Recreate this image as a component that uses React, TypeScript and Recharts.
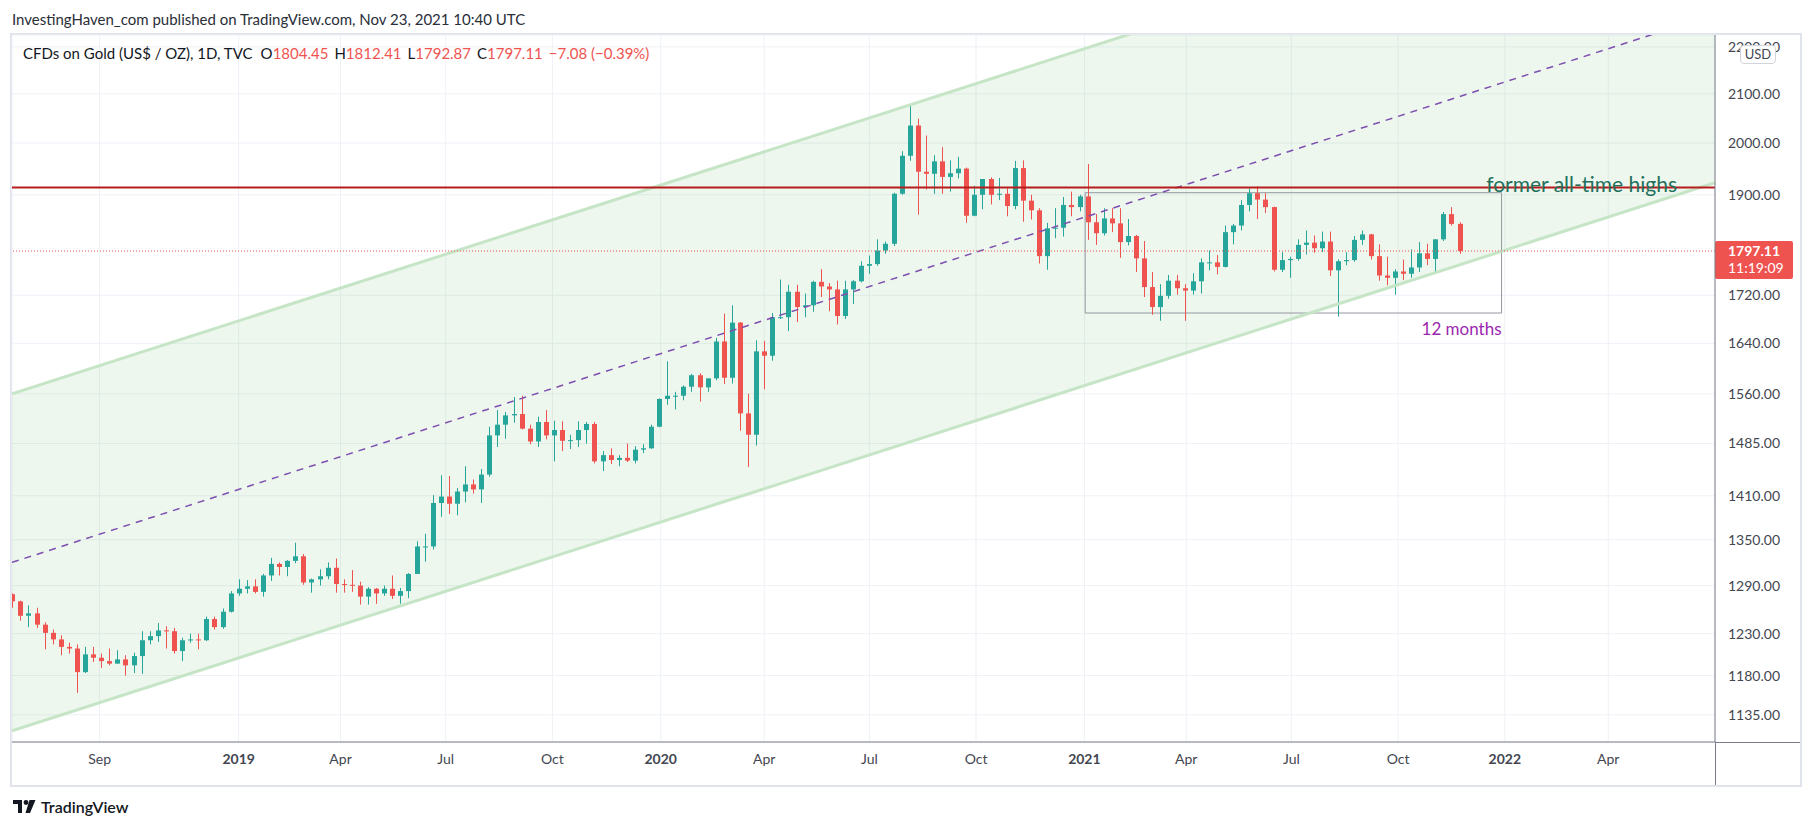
import React from "react";
import {
  ComposedChart,
  Bar,
  Area,
  XAxis,
  YAxis,
  CartesianGrid,
  ReferenceLine,
  ReferenceArea,
} from "recharts";

// weekly candles [open, high, low, close]; week 0 = week of 18 Jun 2018
const ohlc2018 = [
  [1279, 1280, 1262, 1270], [1270, 1271, 1246, 1252], [1252, 1265, 1238, 1255],
  [1255, 1262, 1237, 1241], [1241, 1244, 1211, 1231], [1231, 1235, 1217, 1223],
  [1223, 1228, 1204, 1214], [1214, 1219, 1206, 1212], [1212, 1217, 1160, 1184],
  [1184, 1214, 1183, 1205], [1205, 1214, 1196, 1201], [1201, 1206, 1189, 1197],
  [1197, 1212, 1192, 1194], [1194, 1210, 1194, 1199], [1199, 1204, 1180, 1192],
  [1192, 1207, 1183, 1203], [1203, 1233, 1182, 1222], [1222, 1233, 1217, 1227],
  [1227, 1243, 1220, 1234], [1234, 1239, 1212, 1233], [1233, 1237, 1206, 1209],
  [1209, 1225, 1197, 1222], [1222, 1230, 1219, 1223], [1223, 1230, 1211, 1222],
  [1222, 1251, 1221, 1248], [1248, 1251, 1235, 1238], [1238, 1261, 1236, 1257],
  [1257, 1283, 1256, 1280], [1280, 1298, 1277, 1286],
];

const ohlc2019 = [
  [1286, 1297, 1280, 1289], [1289, 1298, 1280, 1282], [1282, 1305, 1276, 1303],
  [1303, 1326, 1296, 1318], [1318, 1320, 1303, 1314], [1314, 1323, 1302, 1322],
  [1322, 1346, 1319, 1328], [1328, 1331, 1291, 1294], [1294, 1299, 1281, 1298],
  [1298, 1311, 1290, 1302], [1302, 1320, 1298, 1313], [1313, 1325, 1281, 1292],
  [1292, 1298, 1281, 1291], [1291, 1310, 1282, 1290], [1290, 1295, 1266, 1276],
  [1276, 1288, 1266, 1286], [1286, 1287, 1267, 1280], [1280, 1290, 1277, 1286],
  [1286, 1303, 1273, 1277], [1277, 1287, 1267, 1283], [1283, 1306, 1274, 1305],
  [1305, 1348, 1305, 1341], [1341, 1358, 1321, 1341], [1341, 1411, 1337, 1400],
  [1400, 1439, 1381, 1409], [1409, 1438, 1385, 1399], [1399, 1421, 1383, 1416],
  [1416, 1452, 1401, 1426], [1426, 1433, 1413, 1419], [1419, 1448, 1400, 1440],
  [1440, 1510, 1437, 1497], [1497, 1535, 1480, 1513], [1513, 1532, 1492, 1527],
  [1527, 1555, 1516, 1529], [1529, 1557, 1506, 1507], [1507, 1513, 1484, 1488],
  [1488, 1525, 1480, 1517], [1517, 1535, 1491, 1497], [1497, 1519, 1459, 1505],
  [1505, 1518, 1474, 1489], [1489, 1498, 1477, 1490], [1490, 1518, 1480, 1505],
  [1505, 1517, 1485, 1514], [1514, 1517, 1456, 1459], [1459, 1474, 1445, 1468],
  [1468, 1478, 1455, 1461], [1461, 1468, 1452, 1464], [1464, 1485, 1458, 1460],
  [1460, 1481, 1456, 1476], [1476, 1484, 1471, 1478], [1478, 1513, 1477, 1510],
  [1510, 1553, 1509, 1552],
];

const ohlc2020 = [
  [1552, 1611, 1543, 1557], [1557, 1563, 1536, 1557], [1557, 1573, 1550, 1571],
  [1571, 1591, 1563, 1589], [1589, 1592, 1548, 1570], [1570, 1584, 1563, 1584],
  [1584, 1649, 1581, 1643], [1643, 1689, 1575, 1585], [1585, 1703, 1576, 1674],
  [1674, 1675, 1504, 1530], [1530, 1560, 1451, 1498], [1498, 1645, 1482, 1627],
  [1627, 1644, 1567, 1620], [1620, 1690, 1612, 1683], [1683, 1747, 1680, 1683],
  [1683, 1738, 1660, 1726], [1726, 1738, 1675, 1700], [1700, 1723, 1683, 1703],
  [1703, 1745, 1692, 1743], [1743, 1765, 1717, 1735], [1735, 1741, 1693, 1730],
  [1730, 1745, 1671, 1685], [1685, 1745, 1680, 1730], [1730, 1746, 1705, 1744],
  [1744, 1779, 1742, 1771], [1771, 1789, 1757, 1774], [1774, 1818, 1771, 1798],
  [1798, 1814, 1792, 1810], [1810, 1904, 1806, 1902], [1902, 1984, 1900, 1975],
  [1975, 2075, 1965, 2035], [2035, 2049, 1863, 1944], [1944, 2015, 1910, 1940],
  [1940, 1976, 1902, 1964], [1964, 1992, 1902, 1934], [1934, 1966, 1906, 1941],
  [1941, 1973, 1931, 1950], [1950, 1952, 1848, 1861], [1861, 1917, 1860, 1900],
  [1900, 1930, 1873, 1930], [1930, 1933, 1882, 1900], [1900, 1932, 1890, 1902],
  [1902, 1912, 1860, 1879], [1879, 1965, 1873, 1951], [1951, 1966, 1850, 1889],
  [1889, 1900, 1854, 1871], [1871, 1875, 1775, 1788], [1788, 1848, 1764, 1838],
  [1838, 1875, 1820, 1839], [1839, 1896, 1823, 1881], [1881, 1906, 1860, 1877],
  [1877, 1900, 1869, 1897],
];

const ohlc2021 = [
  [1897, 1959, 1817, 1849], [1849, 1864, 1808, 1829], [1829, 1875, 1825, 1856],
  [1856, 1875, 1831, 1847], [1847, 1875, 1785, 1813], [1813, 1855, 1807, 1824],
  [1824, 1826, 1760, 1784], [1784, 1815, 1717, 1734], [1734, 1760, 1687, 1700],
  [1700, 1739, 1677, 1719], [1719, 1755, 1714, 1745], [1745, 1755, 1721, 1732],
  [1732, 1739, 1677, 1728], [1728, 1758, 1721, 1744], [1744, 1784, 1723, 1777],
  [1777, 1798, 1763, 1777], [1777, 1790, 1756, 1769], [1769, 1843, 1768, 1831],
  [1831, 1846, 1809, 1843], [1843, 1890, 1834, 1881], [1881, 1912, 1869, 1903],
  [1903, 1916, 1855, 1891], [1891, 1903, 1866, 1877], [1877, 1878, 1761, 1764],
  [1764, 1795, 1760, 1781], [1781, 1787, 1750, 1783], [1783, 1818, 1780, 1808],
  [1808, 1834, 1791, 1812], [1812, 1825, 1794, 1802], [1802, 1832, 1795, 1814],
  [1814, 1832, 1753, 1763], [1763, 1782, 1684, 1779], [1779, 1795, 1772, 1781],
  [1781, 1824, 1778, 1817], [1817, 1834, 1808, 1827], [1827, 1828, 1782, 1788],
  [1788, 1809, 1745, 1754], [1754, 1787, 1737, 1750], [1750, 1765, 1721, 1761],
  [1761, 1782, 1746, 1757], [1757, 1800, 1750, 1768], [1768, 1813, 1760, 1793],
  [1793, 1810, 1772, 1783], [1783, 1818, 1759, 1818], [1818, 1868, 1815, 1864],
  [1864, 1877, 1843, 1846], [1846, 1849, 1792, 1797],
];

// time axis, in weeks from 18 Jun 2018
const monthTicks = [11.2, 28.4, 41, 54, 67.2, 80.6, 93.4, 106.4, 119.6, 133, 145.6, 158.6, 171.8, 185, 197.8];
const monthLabels = ["Sep", "2019", "Apr", "Jul", "Oct", "2020", "Apr", "Jul", "Oct", "2021", "Apr", "Jul", "Oct", "2022", "Apr"];
const priceTicks = [1135, 1180, 1230, 1290, 1350, 1410, 1485, 1560, 1640, 1720, 1900, 2000, 2100, 2200];

// parallel channel drawn on the chart (start / end of the visible range)
const channelX = [0.36, 211];
const channelUpper = [1560, 2685];
const channelLower = [1117, 1923];
const channelMid = [1320, 2272];

const athLevel = 1914;
const boxWeeks = [133.1, 184.6];
const boxPrices = [1690, 1904];
const lastClose = 1797.11;

const UP = "#26a69a";
const DOWN = "#ef5350";
const FONT = "Lato, 'Open Sans', sans-serif";
const BODY_W = 5;

const candles = [...ohlc2018, ...ohlc2019, ...ohlc2020, ...ohlc2021].map(
  ([o, h, l, c], i) => ({ x: i + 0.4, o, h, l, c, range: [l, h] })
);

const channelData = channelX.map((x, i) => ({
  x,
  band: [channelLower[i], channelUpper[i]],
}));

function Candle(props: any) {
  const { x, y, width, height, payload } = props;
  if (!payload || y == null || height == null) return null;
  const { o, h, l, c } = payload;
  const top = Math.min(y, y + height);
  const bottom = Math.max(y, y + height);
  const span = Math.log(h) - Math.log(l) || 1;
  const toY = (v: number) => top + ((Math.log(h) - Math.log(v)) / span) * (bottom - top);
  const cx = Math.round(x + width / 2) + 0.5;
  const yo = toY(o);
  const yc = toY(c);
  const color = c >= o ? UP : DOWN;
  return (
    <g>
      <line x1={cx} x2={cx} y1={top} y2={bottom} stroke={color} strokeWidth={1} />
      <rect
        x={cx - BODY_W / 2}
        y={Math.min(yo, yc)}
        width={BODY_W}
        height={Math.max(1, Math.abs(yo - yc))}
        fill={color}
      />
    </g>
  );
}

function TimeTick(props: any) {
  const { x, y, payload } = props;
  const idx = monthTicks.indexOf(payload.value);
  const label = monthLabels[idx] ?? "";
  const isYear = /^\d{4}$/.test(label);
  return (
    <text
      x={x}
      y={y}
      dy={12}
      textAnchor="middle"
      fontSize={14}
      fontFamily={FONT}
      fontWeight={isYear ? 700 : 400}
      fill="#434651"
    >
      {label}
    </text>
  );
}

export default function App() {
  return (
    <div
      style={{
        position: "relative",
        width: 1813,
        height: 830,
        background: "#fff",
        fontFamily: FONT,
        overflow: "hidden",
      }}
    >
      <style>{"body{margin:0}"}</style>

      <div
        style={{
          position: "absolute",
          left: 12,
          top: 9,
          fontSize: 15,
          lineHeight: "20px",
          color: "#2a2e39",
        }}
      >
        InvestingHaven_com published on TradingView.com, Nov 23, 2021 10:40 UTC
      </div>

      <div
        style={{
          position: "absolute",
          left: 10,
          top: 33,
          width: 1792,
          height: 754,
          border: "2px solid #e0e3eb",
          boxSizing: "border-box",
        }}
      />

      <div style={{ position: "absolute", left: 0, top: 0 }}>
        <ComposedChart
          width={1800}
          height={785}
          data={candles}
          margin={{ top: 35, right: 0, bottom: 0, left: 12 }}
        >
          <CartesianGrid stroke="#eef1f7" />

          <XAxis
            dataKey="x"
            type="number"
            domain={[0.36, 211]}
            allowDataOverflow
            ticks={monthTicks}
            interval={0}
            height={43}
            tickLine={false}
            tickMargin={4}
            axisLine={{ stroke: "#787b86" }}
            tick={<TimeTick />}
          />

          <YAxis
            orientation="right"
            scale="log"
            domain={[1104.8, 2226]}
            allowDataOverflow
            ticks={priceTicks}
            interval={0}
            width={85}
            tickLine={false}
            tickMargin={7}
            axisLine={{ stroke: "#787b86" }}
            tickFormatter={(v: number) => v.toFixed(2)}
            tick={{ fill: "#434651", fontSize: 14, fontFamily: FONT }}
          />

          <Area
            data={channelData}
            dataKey="band"
            type="linear"
            stroke="none"
            fill="#4caf50"
            fillOpacity={0.1}
            isAnimationActive={false}
            activeDot={false}
            dot={false}
          />

          <ReferenceLine
            segment={[
              { x: channelX[0], y: channelUpper[0] },
              { x: channelX[1], y: channelUpper[1] },
            ]}
            stroke="#c5e5c6"
            strokeWidth={3}
            ifOverflow="hidden"
          />
          <ReferenceLine
            segment={[
              { x: channelX[0], y: channelLower[0] },
              { x: channelX[1], y: channelLower[1] },
            ]}
            stroke="#c5e5c6"
            strokeWidth={3}
            ifOverflow="hidden"
          />
          <ReferenceLine
            segment={[
              { x: channelX[0], y: channelMid[0] },
              { x: channelX[1], y: channelMid[1] },
            ]}
            stroke="#7e4fb0"
            strokeWidth={1.5}
            strokeDasharray="7 6"
            ifOverflow="hidden"
          />

          <Bar
            dataKey="range"
            barSize={5}
            shape={<Candle />}
            isAnimationActive={false}
          />

          <ReferenceArea
            x1={boxWeeks[0]}
            x2={boxWeeks[1]}
            y1={boxPrices[0]}
            y2={boxPrices[1]}
            fill="none"
            fillOpacity={0}
            stroke="#9598a1"
            strokeWidth={1}
            label={(p: any) => (
              <text
                x={p.viewBox.x + p.viewBox.width}
                y={p.viewBox.y + p.viewBox.height + 22}
                textAnchor="end"
                fontSize={17}
                fontFamily={FONT}
                fill="#9c27b0"
              >
                12 months
              </text>
            )}
          />

          <ReferenceLine
            y={athLevel}
            stroke="#b71c1c"
            strokeWidth={2}
            label={(p: any) => (
              <text
                x={p.viewBox.x + p.viewBox.width - 38}
                y={p.viewBox.y + 5}
                textAnchor="end"
                fontSize={21}
                fontFamily={FONT}
                fill="#22705c"
              >
                former all-time highs
              </text>
            )}
          />

          <ReferenceLine
            y={lastClose}
            stroke="#ef5350"
            strokeDasharray="1 2"
            strokeWidth={1}
            label={(p: any) => {
              const bx = p.viewBox.x + p.viewBox.width;
              const by = p.viewBox.y;
              return (
                <g>
                  <rect x={bx} y={by - 10} width={78} height={38} rx={2} fill="#ef5350" />
                  <text x={bx + 13} y={by + 5} fontSize={14} fontWeight={700} fontFamily={FONT} fill="#fff">
                    {lastClose.toFixed(2)}
                  </text>
                  <text x={bx + 13} y={by + 22} fontSize={14} fontFamily={FONT} fill="#fff">
                    11:19:09
                  </text>
                </g>
              );
            }}
          />
        </ComposedChart>
      </div>

      {/* axis corner lines */}
      <div style={{ position: "absolute", left: 1715, top: 742, width: 85, height: 1, background: "#787b86" }} />
      <div style={{ position: "absolute", left: 1715, top: 742, width: 1, height: 43, background: "#787b86" }} />

      {/* legend */}
      <div
        style={{
          position: "absolute",
          left: 23,
          top: 43,
          fontSize: 15,
          lineHeight: "20px",
          color: "#131722",
          whiteSpace: "nowrap",
        }}
      >
        <span>CFDs on Gold (US$ / OZ), 1D, TVC</span>
        <span style={{ marginLeft: 8 }}>O</span>
        <span style={{ color: DOWN }}>1804.45</span>
        <span style={{ marginLeft: 6 }}>H</span>
        <span style={{ color: DOWN }}>1812.41</span>
        <span style={{ marginLeft: 6 }}>L</span>
        <span style={{ color: DOWN }}>1792.87</span>
        <span style={{ marginLeft: 6 }}>C</span>
        <span style={{ color: DOWN }}>1797.11</span>
        <span style={{ color: DOWN, marginLeft: 6 }}>−7.08 (−0.39%)</span>
      </div>

      {/* currency badge */}
      <div
        style={{
          position: "absolute",
          left: 1740,
          top: 45,
          width: 36,
          height: 19,
          boxSizing: "border-box",
          border: "1px solid #d1d4dc",
          borderRadius: 4,
          background: "#fff",
          fontSize: 13,
          lineHeight: "17px",
          textAlign: "center",
          color: "#434651",
        }}
      >
        USD
      </div>

      {/* TradingView mark */}
      <div
        style={{
          position: "absolute",
          left: 13,
          top: 797,
          display: "flex",
          alignItems: "center",
          gap: 5,
          color: "#131722",
        }}
      >
        <svg width={23} height={15} viewBox="0 0 23 15">
          <rect x={0} y={1} width={9} height={4} fill="#131722" />
          <rect x={5} y={1} width={4} height={13} fill="#131722" />
          <circle cx={13} cy={3.5} r={2.4} fill="#131722" />
          <polygon points="16.5,1 22.5,1 17,14 12.5,14" fill="#131722" />
        </svg>
        <span style={{ fontSize: 16, fontWeight: 600 }}>TradingView</span>
      </div>
    </div>
  );
}
